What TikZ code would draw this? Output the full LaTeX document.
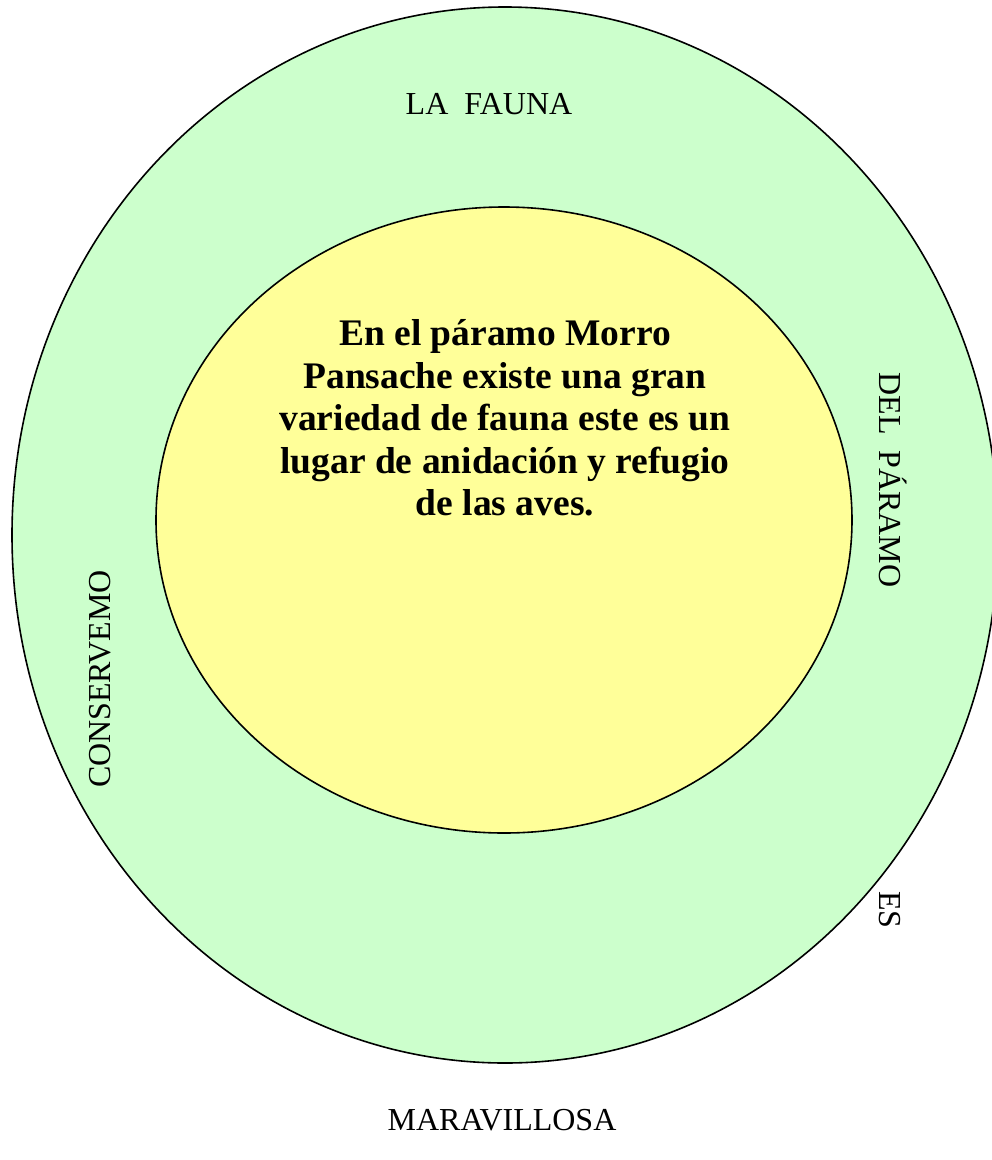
\documentclass[tikz,border=0pt]{standalone}
\usepackage{fontspec}
\setmainfont{Liberation Serif}
\definecolor{outergreen}{HTML}{CCFFCC}
\definecolor{inneryellow}{HTML}{FFFF99}
\begin{document}
\begin{tikzpicture}[x=1pt,y=-1pt,
  ring/.style={draw=black,line width=1.6pt},
  lbl/.style={inner sep=0pt,font=\fontsize{32}{38}\selectfont},
  core/.style={inner sep=0pt,align=center,font=\fontsize{37.5}{42.5}\selectfont\bfseries}]
\useasboundingbox (0,0) rectangle (992,1160);
\path[ring,fill=outergreen] (505,535) ellipse [x radius=493,y radius=528];
\path[ring,fill=inneryellow] (504,520) ellipse [x radius=348,y radius=313];
\node[lbl] (fauna) at (489,104) {LA\ \ FAUNA};
\node[core] (main) at (505,418) {En el páramo Morro\\Pansache existe una gran\\variedad de fauna este es un\\lugar de anidación y refugio\\de las aves.};
\node[lbl,rotate=-90] (paramo) at (893,480) {DEL\ \ PÁRAMO};
\node[lbl,rotate=-90] (es) at (890,910) {ES};
\node[lbl,rotate=90] (conserv) at (100,679) {CONSERVEMO};
\node[lbl] (mara) at (502,1120) {MARAVILLOSA};
\end{tikzpicture}
\end{document}
